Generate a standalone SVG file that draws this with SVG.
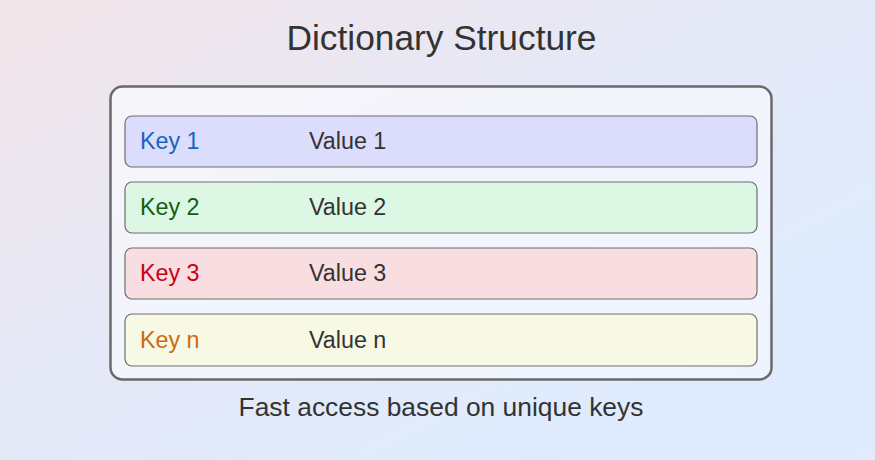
<svg xmlns="http://www.w3.org/2000/svg" width="875" height="460" viewBox="0 0 875 460">
  <defs>
    <linearGradient id="bg" x1="0" y1="0" x2="1" y2="1">
      <stop offset="0" stop-color="#f3e5e9"/>
      <stop offset="0.4" stop-color="#e6e8f6"/>
      <stop offset="0.7" stop-color="#e0ebfc"/>
      <stop offset="1" stop-color="#deecfe"/>
    </linearGradient>
    <linearGradient id="box" x1="0" y1="0" x2="1" y2="1">
      <stop offset="0" stop-color="#f6f5f9"/>
      <stop offset="1" stop-color="#eef4ff"/>
    </linearGradient>
    <style>
      .t { font-family: "Liberation Sans", Arial, sans-serif; }
      .row { stroke: #6e6e6e; stroke-width: 1.2; }
      .key { font-size: 23.3px; }
      .val { font-size: 23.3px; fill: #333333; }
    </style>
  </defs>
  <rect x="0" y="0" width="875" height="460" fill="url(#bg)"/>
  <text class="t" x="441.5" y="50" font-size="35.3" fill="#333333" text-anchor="middle">Dictionary Structure</text>
  <g id="dictionary">
    <rect x="110.5" y="86.5" width="661" height="293" rx="12" fill="url(#box)" stroke="#6a6a6a" stroke-width="2.5"/>
  </g>
  <g id="row1">
    <rect class="row" x="125" y="116" width="632" height="51" rx="7" fill="#dcdcfc"/>
    <text class="t key" x="140" y="149" fill="#1565c0">Key 1</text>
    <text class="t val" x="309" y="149">Value 1</text>
  </g>
  <g id="row2">
    <rect class="row" x="125" y="182" width="632" height="51" rx="7" fill="#dcf8e4"/>
    <text class="t key" x="140" y="215" fill="#106010">Key 2</text>
    <text class="t val" x="309" y="215">Value 2</text>
  </g>
  <g id="row3">
    <rect class="row" x="125" y="248" width="632" height="51" rx="7" fill="#f8dde1"/>
    <text class="t key" x="140" y="281" fill="#cc0015">Key 3</text>
    <text class="t val" x="309" y="281">Value 3</text>
  </g>
  <g id="row4">
    <rect class="row" x="125" y="314" width="632" height="52" rx="7" fill="#f7f9e4"/>
    <text class="t key" x="140" y="348" fill="#cc6a10">Key n</text>
    <text class="t val" x="309" y="348">Value n</text>
  </g>
  <g id="connectors"/>
  <text class="t" x="441" y="416" font-size="26.4" fill="#333333" text-anchor="middle">Fast access based on unique keys</text>
</svg>
